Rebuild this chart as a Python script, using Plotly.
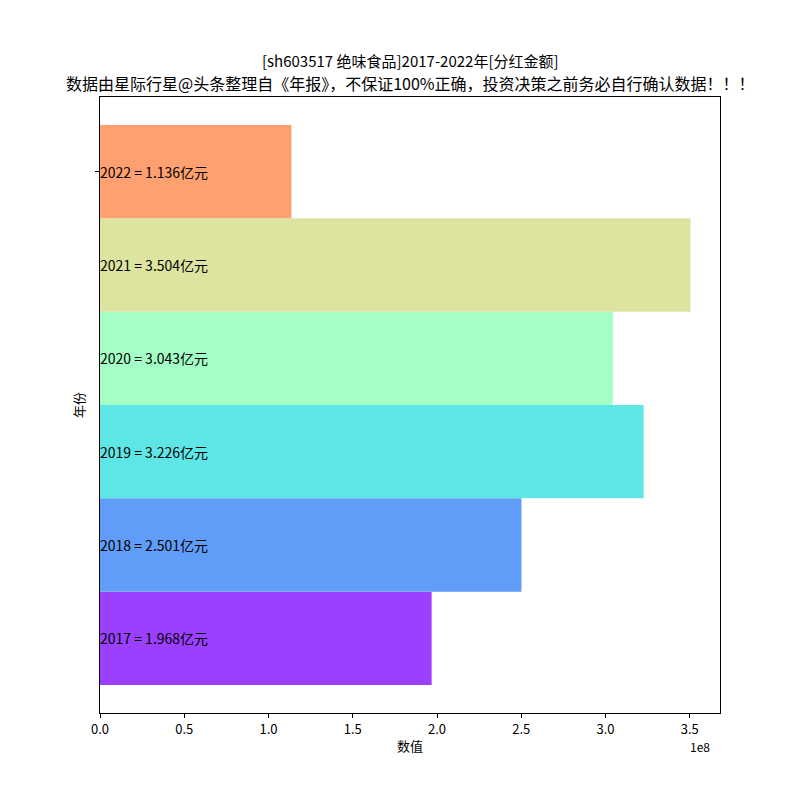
import plotly.graph_objects as go

# data
years = ["2017", "2018", "2019", "2020", "2021", "2022"]
dividends = [1.968e8, 2.501e8, 3.226e8, 3.043e8, 3.504e8, 1.136e8]
labels = ["1.968亿元", "2.501亿元", "3.226亿元", "3.043亿元", "3.504亿元", "1.136亿元"]
colors = ["#9b40ff", "#5f9df8", "#5ee6e6", "#a3ffc5", "#dde4a0", "#ffa070"]
x_ticks = [0, 0.5e8, 1.0e8, 1.5e8, 2.0e8, 2.5e8, 3.0e8, 3.5e8]
x_tick_text = ["0.0", "0.5", "1.0", "1.5", "2.0", "2.5", "3.0", "3.5"]

title1 = "[sh603517 绝味食品]2017-2022年[分红金额]"
title2 = "数据由星际行星@头条整理自《年报》，不保证100%正确，投资决策之前务必自行确认数据！！！"

font = "Noto Sans CJK SC, DejaVu Sans, sans-serif"
pos = list(range(len(years)))

fig = go.Figure(go.Bar(
    x=dividends,
    y=pos,
    orientation="h",
    width=1,
    marker=dict(color=colors, line=dict(width=0)),
    hoverinfo="x",
))

# in-bar labels at x=0
for p, yr, lab in zip(pos, years, labels):
    fig.add_annotation(x=0, y=p, text=f"{yr} = {lab}", showarrow=False,
                       xanchor="left", yanchor="middle", xshift=-2,
                       font=dict(size=14, color="black", family=font))

# titles and axis labels as paper annotations
fig.add_annotation(x=0.5, y=1.0585, xref="paper", yref="paper", text=title1,
                   showarrow=False, xanchor="center", yanchor="middle", borderpad=0,
                   font=dict(size=15, family=font, color="black"))
fig.add_annotation(x=0.5, y=1.0227, xref="paper", yref="paper", text=title2,
                   showarrow=False, xanchor="center", yanchor="middle", borderpad=0,
                   font=dict(size=16, family=font, color="black"))
fig.add_annotation(x=0.5, y=-0.052, xref="paper", yref="paper", text="数值",
                   showarrow=False, xanchor="center", yanchor="middle",
                   font=dict(size=13, family=font, color="black"))
fig.add_annotation(x=-0.0355, y=0.5, xref="paper", yref="paper", text="年份",
                   showarrow=False, xanchor="center", yanchor="middle", textangle=-90,
                   font=dict(size=13, family=font, color="black"))
fig.add_annotation(x=0.985, y=-0.054, xref="paper", yref="paper", text="1e8",
                   showarrow=False, xanchor="right", yanchor="middle", borderpad=0,
                   font=dict(size=12, color="black", family=font))

# page body has an 8px margin, so the figure is 792 wide/high
fig.update_layout(
    width=792, height=792,
    paper_bgcolor="white", plot_bgcolor="white",
    margin=dict(l=92, r=80, t=89, b=87),
    font=dict(family=font, color="black"),
    showlegend=False,
    xaxis=dict(
        range=[0, max(dividends) * 1.05],
        tickvals=x_ticks, ticktext=x_tick_text,
        ticks="outside", ticklen=4, tickcolor="black",
        showgrid=False, zeroline=False, automargin=False,
        showline=True, linecolor="black", linewidth=1, mirror=True,
        tickfont=dict(size=13),
    ),
    yaxis=dict(
        range=[-0.8, 5.8],
        tickvals=[5], ticktext=[""],
        ticks="outside", ticklen=4, tickcolor="black",
        showgrid=False, zeroline=False, automargin=False,
        showline=True, linecolor="black", linewidth=1, mirror=True,
    ),
)

fig.write_html("out.html")
